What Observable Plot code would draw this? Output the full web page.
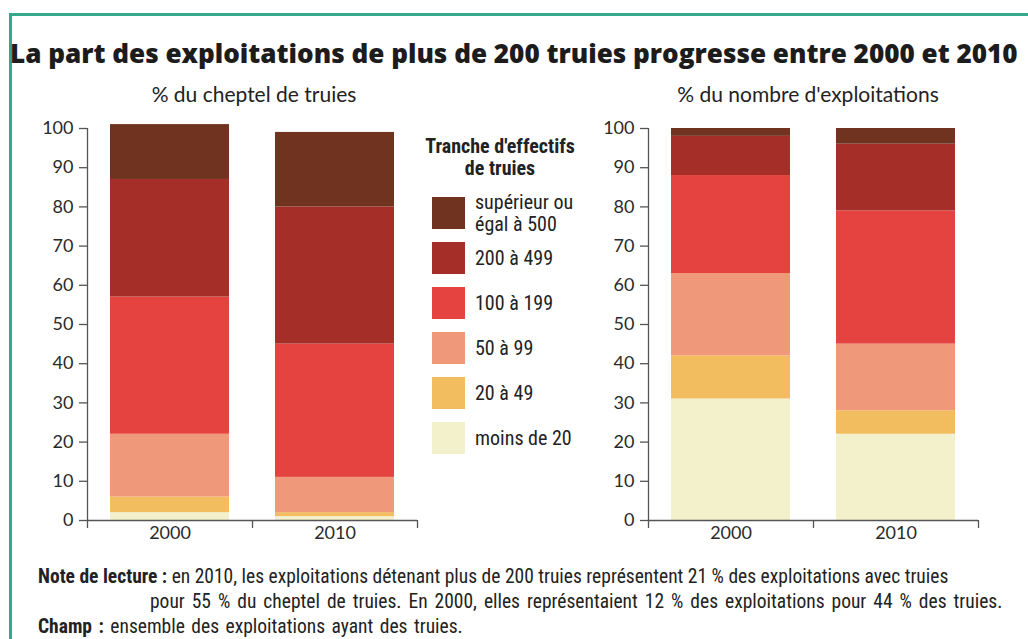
<!DOCTYPE html>
<html><head><meta charset="utf-8">
<script src="https://cdn.jsdelivr.net/npm/d3@7"></script>
<script src="https://cdn.jsdelivr.net/npm/@observablehq/plot@0.6"></script>
<style>
body{margin:0;background:#fff;}
#page{position:relative;width:1028px;height:639px;overflow:hidden;background:#fff;color:#222;font-family:"Liberation Sans Narrow","Roboto Condensed",Lato,sans-serif;}
#frame{position:absolute;left:9px;top:13px;width:1100px;height:700px;border-left:3px solid #35a88c;border-top:3px solid #35a88c;box-sizing:border-box;}
.t{position:absolute;white-space:nowrap;}
#title{left:10px;top:40px;font-family:"Open Sans",Lato,sans-serif;font-weight:800;font-size:25px;line-height:25px;color:#1c1c1c;}
.sub{top:83px;font-family:Lato,sans-serif;font-size:21px;line-height:21px;transform:translateX(-50%);}
.lt{font-size:20px;line-height:20px;font-weight:bold;left:500px;transform:translateX(-50%);}
.lab{left:475px;font-size:20px;line-height:20px;}
.sw{position:absolute;left:432px;width:33px;height:32px;}
.note{font-size:19.5px;line-height:19.5px;}
.plot{position:absolute;top:100px;}
</style></head>
<body><div id="page"><div id="frame"></div></div>
<script>
const years = ["2000", "2010"];
const tranches = ["moins de 20", "20 à 49", "50 à 99", "100 à 199", "200 à 499", "supérieur ou égal à 500"];
const cheptel2000 = [2, 4, 16, 35, 30, 14];
const cheptel2010 = [1, 1, 9, 34, 35, 19];
const exploit2000 = [31, 11, 21, 25, 10, 2];
const exploit2010 = [22, 6, 17, 34, 17, 4];
const colors = ["#f3f0cc", "#f2bd5f", "#f0987a", "#e5433f", "#a52f28", "#6f3320"];
const yTicks = [0, 10, 20, 30, 40, 50, 60, 70, 80, 90, 100];
const titleText = "La part des exploitations de plus de 200 truies progresse entre 2000 et 2010";
const sub1 = "% du cheptel de truies";
const sub2 = "% du nombre d'exploitations";
const legendTitle = ["Tranche d'effectifs", "de truies"];

const page = document.getElementById("page");
function addText(cls, html, css) {
  const d = document.createElement("div");
  d.className = "t " + cls;
  d.innerHTML = html;
  Object.assign(d.style, css || {});
  page.appendChild(d);
  return d;
}
const title = addText("", titleText, {});
title.id = "title";
// fit the title to the width it occupies in the reference
const tw = title.getBoundingClientRect().width;
const fs = 25 * 1008 / tw;
title.style.fontSize = fs + "px";
title.style.lineHeight = fs + "px";
title.style.top = (54 - fs * 0.55) + "px";

addText("sub", sub1, {left: "254px"});
addText("sub", sub2, {left: "808px"});
addText("lt", legendTitle[0], {top: "136px"});
addText("lt", legendTitle[1], {top: "158px"});

const swTops = [422, 377, 332, 287, 242, 197];
tranches.forEach((t, j) => {
  const s = document.createElement("div");
  s.className = "sw";
  s.style.top = swTops[j] + "px";
  s.style.background = colors[j];
  page.appendChild(s);
  if (j === 5) {
    addText("lab", "supérieur ou<br>égal à 500", {top: "191px", lineHeight: "22px"});
  } else {
    addText("lab", tranches[j], {top: (swTops[j] + 16 - 10) + "px"});
  }
});

addText("note", "<b>Note de lecture :</b> en 2010, les exploitations détenant plus de 200 truies représentent 21 % des exploitations avec truies", {left: "38px", top: "567px"});
addText("note", "pour 55 % du cheptel de truies. En 2000, elles représentaient 12 % des exploitations pour 44 % des truies.", {left: "150px", top: "592px", wordSpacing: "2.5px"});
addText("note", "<b>Champ :</b> ensemble des exploitations ayant des truies.", {left: "38px", top: "617px", wordSpacing: "2px"});

const W = 430, H = 450, MT = 28, MB = 30;
const pxPerUnit = (H - MT - MB) / 100;
const tickU = 8 / pxPerUnit;

function chart(v2000, v2010, marginLeft, marginRight) {
  const rows = [];
  years.forEach((yr, i) => tranches.forEach((t, j) => rows.push({year: yr, tranche: t, value: (i ? v2010 : v2000)[j]})));
  const step = (W - marginLeft - marginRight) / 2;
  return Plot.plot({
    width: W, height: H, marginTop: MT, marginBottom: MB, marginLeft, marginRight,
    style: {fontFamily: "Lato, sans-serif", fontSize: "18px", color: "#2a2a2a", background: "transparent", overflow: "visible"},
    x: {domain: years, paddingInner: 0.28, paddingOuter: 0.14, label: null},
    y: {domain: [0, 100], label: null},
    color: {domain: tranches, range: colors},
    marks: [
      Plot.barY(rows, {x: "year", y: "value", fill: "tranche"}),
      Plot.ruleY([0], {stroke: "#555", strokeWidth: 1.3}),
      Plot.ruleX(years.slice(0, 1), {x: d => d, dx: -step / 2, y1: -tickU, y2: 100, stroke: "#555", strokeWidth: 1.3}),
      Plot.ruleX(years, {x: d => d, dx: step / 2, y1: -tickU, y2: 0, stroke: "#555", strokeWidth: 1.3}),
      Plot.axisY({ticks: yTicks, tickSize: 8, tickPadding: 6, label: null, fontSize: 18, stroke: "#555", strokeWidth: 1.3}),
      Plot.axisX({tickSize: 0, tickPadding: 6, label: null, fontSize: 18})
    ]
  });
}
const c1 = chart(cheptel2000, cheptel2010, 87, 13);
c1.classList.add("plot"); c1.style.left = "0px";
page.appendChild(c1);
const c2 = chart(exploit2000, exploit2010, 88, 12);
c2.classList.add("plot"); c2.style.left = "560px";
page.appendChild(c2);
</script>
</body></html>
